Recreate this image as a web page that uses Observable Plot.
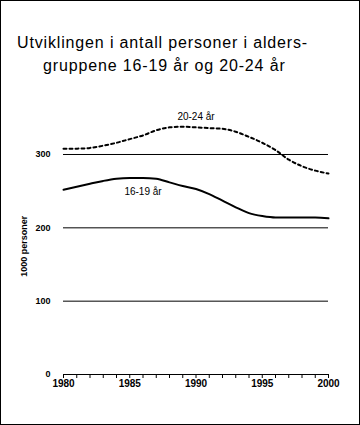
<!DOCTYPE html>
<html>
<head>
<meta charset="utf-8">
<script src="https://cdn.jsdelivr.net/npm/d3@7"></script>
<script src="https://cdn.jsdelivr.net/npm/@observablehq/plot@0.6"></script>
<style>
  body { margin: 0; background: #fff; }
  #wrap { position: relative; width: 360px; height: 425px; overflow: hidden; background: #fff; font-family: "Liberation Sans", Arial, sans-serif; }
  .tl { position: absolute; font-size: 16px; line-height: 20px; color: #000; white-space: nowrap; letter-spacing: 0.85px; }
  #chart { position: absolute; left: 0; top: 80px; }
  #border { position: absolute; left: 0; top: 0; width: 360px; height: 425px; box-sizing: border-box; border: 1px solid #000; pointer-events: none; }
</style>
</head>
<body>
<div id="wrap">
  <div class="tl" style="left:17px; top:33px;">Utviklingen i antall personer i alders-</div>
  <div class="tl" style="left:43px; top:56px;">gruppene 16-19 år og 20-24 år</div>
  <div id="chart"></div>
  <div id="border"></div>
</div>
<script>
const years = d3.range(1980, 2001);
const age1619 = [252, 256, 260, 264, 267, 268, 268, 267, 262, 257, 253, 246, 237, 228, 220, 216, 214, 214, 214, 214, 213];
const age2024 = [308, 308, 309, 312, 316, 321, 326, 333, 337, 338, 337, 336, 335, 331, 324, 316, 306, 293, 284, 278, 274];
const seriesNames = ["16-19 år", "20-24 år"];
const gridValues = [100, 200, 300];
const yTicks = [0, 100, 200, 300];
const xLabelYears = [1980, 1985, 1990, 1995, 2000];
const labelYears = {"16-19 år": 1986, "20-24 år": 1990};

const rows = [];
years.forEach((y, i) => {
  rows.push({year: y, value: age1619[i], series: seriesNames[0]});
  rows.push({year: y, value: age2024[i], series: seriesNames[1]});
});
const labelRows = rows.filter(d => labelYears[d.series] === d.year);

const chart = Plot.plot({
  width: 360,
  height: 345,
  marginLeft: 63,
  marginRight: 32,
  marginTop: 37.33,
  marginBottom: 51,
  style: {fontFamily: "Liberation Sans, Arial, sans-serif", background: "transparent", overflow: "visible"},
  x: {domain: [1980, 2000]},
  y: {domain: [0, 350]},
  marks: [
    Plot.ruleY(gridValues, {stroke: "#000", strokeWidth: 1}),
    Plot.ruleY([0], {stroke: "#000", strokeWidth: 1}),
    Plot.axisX({ticks: years, tickSize: 4, tickPadding: 1, stroke: "#000", strokeOpacity: 1,
      tickFormat: d => xLabelYears.includes(d) ? String(d) : "",
      fontSize: 10, fontWeight: "bold", fill: "#000", label: null}),
    Plot.axisY({ticks: yTicks, tickSize: 0, tickPadding: 13, fontSize: 9, fontWeight: "bold", fill: "#000",
      label: "1000 personer", labelAnchor: "center", labelArrow: "none", labelOffset: 43}),
    Plot.line(rows.filter(d => d.series === seriesNames[0]), {x: "year", y: "value", stroke: "#000", strokeWidth: 2, curve: "monotone-x"}),
    Plot.line(rows.filter(d => d.series === seriesNames[1]), {x: "year", y: "value", stroke: "#000", strokeWidth: 2, strokeDasharray: "3,3", curve: "monotone-x"}),
    Plot.text(labelRows.filter(d => d.series === seriesNames[1]), {x: "year", y: "value", text: "series", dy: -11, fontSize: 10, fill: "#000"}),
    Plot.text(labelRows.filter(d => d.series === seriesNames[0]), {x: "year", y: "value", text: "series", dy: 14, fontSize: 10, fill: "#000"})
  ]
});
document.getElementById("chart").appendChild(chart);
</script>
</body>
</html>
